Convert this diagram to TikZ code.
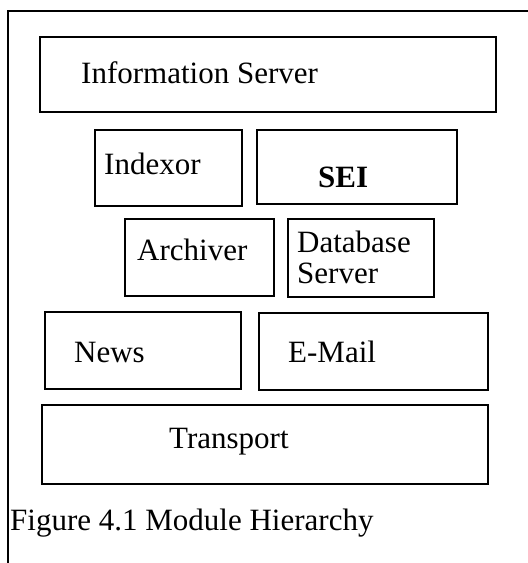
\documentclass[tikz,border=0pt]{standalone}
\usepackage{fontspec}
\setmainfont{Liberation Serif}
\usepackage{tikz}

\tikzset{
  modbox/.style={draw, line width=2pt, inner sep=0pt},
  modtext/.style={anchor=base west, inner sep=0pt, font=\fontsize{31}{31}\selectfont},
}

\begin{document}
\begin{tikzpicture}[x=1pt, y=-1pt]
\useasboundingbox (0,0) rectangle (528,563);
% frame
\draw[line width=1.5pt] (8,563) |- (528,11);
% layers
\node[modbox, minimum width=456pt, minimum height=75pt] (info) at (268,74.5) {};
\node[modbox, minimum width=147pt, minimum height=76pt] (indexor) at (168.5,168) {};
\node[modbox, minimum width=200pt, minimum height=74pt] (sei) at (357,167) {};
\node[modbox, minimum width=149pt, minimum height=77pt] (archiver) at (199.5,257.5) {};
\node[modbox, minimum width=146pt, minimum height=78pt] (dbserver) at (361,258) {};
\node[modbox, minimum width=196pt, minimum height=77pt] (news) at (143,350.5) {};
\node[modbox, minimum width=229pt, minimum height=77pt] (email) at (373.5,351.5) {};
\node[modbox, minimum width=446pt, minimum height=79pt] (transport) at (265,444.5) {};
% labels
\node[modtext] (infotxt) at (81,83) {Information Server};
\node[modtext] (indexortxt) at (104,174) {Indexor};
\node[modtext, font=\fontsize{31}{31}\selectfont\bfseries] (seitxt) at (318,187) {SEI};
\node[modtext] (archivertxt) at (137,260) {Archiver};
\node[modtext, anchor=north west, align=left] (dbtxt) at (297,231) {Database\\Server};
\node[modtext] (newstxt) at (74,362) {News};
\node[modtext] (emailtxt) at (288,362) {E-Mail};
\node[modtext] (transporttxt) at (169,448) {Transport};
\node[modtext] (caption) at (10,530) {Figure 4.1 Module Hierarchy};
\end{tikzpicture}
\end{document}
